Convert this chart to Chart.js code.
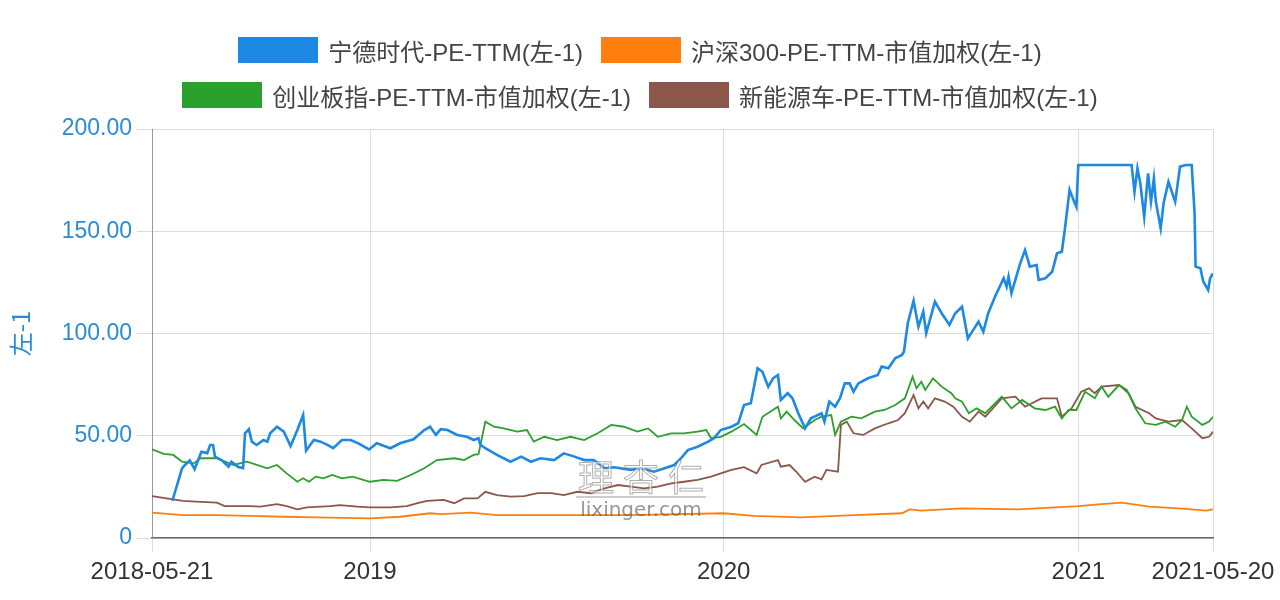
<!DOCTYPE html>
<html>
<head>
<meta charset="utf-8">
<script src="https://cdn.jsdelivr.net/npm/chart.js@4.4.1/dist/chart.umd.min.js"></script>
<style>
  html, body { margin: 0; padding: 0; background: #fff; }
  #wrap { position: relative; width: 1280px; height: 600px; }
  #chart { position: absolute; left: 0; top: 0; }
  .row { position: absolute; left: 0; width: 1280px; height: 26px; display: flex; justify-content: center; align-items: center;
         font-family: "Liberation Sans", "Noto Sans CJK SC", sans-serif; font-size: 24px; color: #444; }
  .item { display: flex; align-items: center; margin: 0 9px; white-space: nowrap; }
  .box { width: 80px; height: 26px; margin-right: 10px; }
</style>
</head>
<body>
<div id="wrap">
  <canvas id="chart" width="1280" height="600"></canvas>
  <div class="row" id="row1" style="top:37px"></div>
  <div class="row" id="row2" style="top:82px"></div>
</div>
<script>
// series names / colours
const seriesNames = ["宁德时代-PE-TTM(左-1)", "沪深300-PE-TTM-市值加权(左-1)", "创业板指-PE-TTM-市值加权(左-1)", "新能源车-PE-TTM-市值加权(左-1)"];
const seriesColors = ["#1e88e5", "#ff7f0e", "#2ca02c", "#8c564b"];

// x axis tick dates, y axis ticks
const xTickDates = ["2018-05-21", "2019-01-01", "2020-01-01", "2021-01-01", "2021-05-20"];
const yTicks = [0, 50, 100, 150, 200];

// 宁德时代
const catlDates = ["2018-06-11","2018-06-21","2018-06-24","2018-06-29","2018-07-04","2018-07-11","2018-07-17","2018-07-20","2018-07-23","2018-07-25",
  "2018-08-01","2018-08-08","2018-08-11","2018-08-18","2018-08-23","2018-08-25","2018-08-29","2018-09-01","2018-09-06","2018-09-13",
  "2018-09-17","2018-09-20","2018-09-27","2018-10-04","2018-10-11","2018-10-18","2018-10-24","2018-10-27","2018-11-04","2018-11-11",
  "2018-11-18","2018-11-24","2018-12-03","2018-12-12","2018-12-20","2018-12-31","2019-01-08","2019-01-22","2019-02-01","2019-02-15",
  "2019-02-26","2019-03-04","2019-03-10","2019-03-15","2019-03-22","2019-04-01","2019-04-11","2019-04-18","2019-04-23","2019-04-25",
  "2019-04-30","2019-05-12","2019-05-26","2019-06-06","2019-06-16","2019-06-26","2019-07-10","2019-07-20","2019-07-31","2019-08-10",
  "2019-08-20","2019-08-27","2019-08-31","2019-09-10","2019-09-27","2019-10-08","2019-10-21","2019-11-01","2019-11-11","2019-11-18",
  "2019-11-25","2019-12-05","2019-12-16","2019-12-22","2019-12-29","2020-01-09","2020-01-16","2020-01-22","2020-01-29","2020-02-05",
  "2020-02-10","2020-02-16","2020-02-21","2020-02-26","2020-02-29","2020-03-07","2020-03-12","2020-03-18","2020-03-25","2020-03-31",
  "2020-04-11","2020-04-14","2020-04-19","2020-04-25","2020-04-30","2020-05-05","2020-05-10","2020-05-14","2020-05-19","2020-05-29",
  "2020-06-08","2020-06-12","2020-06-19","2020-06-26","2020-07-03","2020-07-05","2020-07-09","2020-07-15","2020-07-20","2020-07-25",
  "2020-07-28","2020-08-06","2020-08-13","2020-08-21","2020-08-27","2020-09-03","2020-09-09","2020-09-20","2020-09-25","2020-09-30",
  "2020-10-07","2020-10-16","2020-10-19","2020-10-21","2020-10-24","2020-11-02","2020-11-07","2020-11-12","2020-11-19","2020-11-21",
  "2020-11-28","2020-12-05","2020-12-10","2020-12-15","2020-12-18","2020-12-23","2020-12-27","2020-12-30","2021-01-01","2021-02-25",
  "2021-02-28","2021-03-03","2021-03-06","2021-03-10","2021-03-14","2021-03-17","2021-03-20","2021-03-22","2021-03-27","2021-03-30",
  "2021-04-04","2021-04-11","2021-04-16","2021-04-22","2021-04-28","2021-05-01","2021-05-02","2021-05-07","2021-05-10","2021-05-15",
  "2021-05-17","2021-05-20"];
const catlPE = [18.2,34,35.7,38,33.7,42.2,41.5,45.5,45.5,39.8,
  38,34.9,37.3,34.7,34.2,51.2,53.2,47.1,45.5,47.9,
  47.1,51.2,54.4,52,45,52.8,60.1,42.7,47.9,47.1,
  45.5,43.9,47.9,47.9,46.3,43.3,46.3,43.9,46.3,48.3,
  52.8,54.4,50.4,53.2,52.8,50.4,49.5,47.9,48.8,45.5,
  43.9,40.6,37.3,39.8,37.3,39,38.1,41.4,39.8,38.1,
  38.1,35.7,34.1,34.6,33.3,34.1,32.4,34.1,35.7,39,
  43,44.6,47.1,48.8,52.8,54.4,56.1,65,65.9,83,
  81.3,74,78.1,79.7,67.5,70.8,68.3,61,53.6,58.5,
  61,56.9,66.7,64.2,68.3,75.6,75.6,71.5,75.6,78.1,
  79.7,83.8,83,87.9,89.5,91.1,105,116,103.3,110.7,
  100.1,115.6,109.9,104.2,109.9,113.1,97.6,105.8,100.9,109.9,
  118,127,122.9,127.8,119.7,134.3,140.8,132.7,133.5,126.2,
  127,130.2,139.2,140,150.6,170.2,165.3,162,182.4,182.4,
  169.3,180.8,173.4,157.1,178.3,164.5,175.9,164.5,151.4,163.7,
  174.2,164.5,181.6,182.4,182.4,158.8,132.7,131.9,125.3,121.3,
  127,129.4];

// 沪深300
const hs300Dates = ["2018-05-21","2018-06-22","2018-07-27","2018-08-30","2018-10-04","2018-11-07","2019-01-01","2019-02-01","2019-03-04","2019-03-15",
  "2019-04-15","2019-05-12","2019-07-20","2019-09-27","2020-01-01","2020-02-01","2020-03-21","2020-05-15","2020-07-03","2020-07-11",
  "2020-07-23","2020-09-03","2020-10-31","2021-01-01","2021-01-25","2021-02-15","2021-03-15","2021-04-15","2021-05-13","2021-05-20"];
const hs300PE = [12.4,11.2,11.2,10.8,10.4,10.1,9.6,10.4,12.1,11.7,
  12.4,11.2,11.2,11.2,12.1,10.8,10.1,11.2,12.1,14,
  13.4,14.5,14,15.6,16.6,17.3,15.3,14.5,13.4,14];

// 创业板指
const cybDates = ["2018-05-21","2018-06-02","2018-06-12","2018-06-21","2018-07-03","2018-07-10","2018-07-27","2018-08-13","2018-08-27","2018-09-17",
  "2018-09-27","2018-10-07","2018-10-18","2018-10-24","2018-10-30","2018-11-06","2018-11-14","2018-11-23","2018-12-03","2018-12-14",
  "2019-01-01","2019-01-15","2019-01-29","2019-02-12","2019-02-26","2019-03-11","2019-03-29","2019-04-08","2019-04-18","2019-04-23",
  "2019-04-30","2019-05-09","2019-05-19","2019-06-02","2019-06-12","2019-06-19","2019-06-30","2019-07-13","2019-07-27","2019-08-10",
  "2019-08-24","2019-09-07","2019-09-20","2019-10-04","2019-10-15","2019-10-25","2019-11-08","2019-11-21","2019-12-05","2019-12-14",
  "2019-12-19","2019-12-29","2020-01-09","2020-01-22","2020-02-04","2020-02-10","2020-02-26","2020-02-29","2020-03-06","2020-03-14",
  "2020-03-23","2020-04-04","2020-04-11","2020-04-21","2020-04-25","2020-05-01","2020-05-12","2020-05-22","2020-06-05","2020-06-15",
  "2020-06-26","2020-07-06","2020-07-14","2020-07-18","2020-07-23","2020-07-27","2020-08-04","2020-08-13","2020-08-23","2020-08-27",
  "2020-09-03","2020-09-10","2020-09-18","2020-09-27","2020-10-14","2020-10-24","2020-11-04","2020-11-17","2020-11-28","2020-12-08",
  "2020-12-15","2020-12-22","2020-12-30","2021-01-08","2021-01-18","2021-01-25","2021-02-01","2021-02-12","2021-02-20","2021-03-01",
  "2021-03-11","2021-03-22","2021-04-01","2021-04-11","2021-04-18","2021-04-23","2021-04-28","2021-05-09","2021-05-16","2021-05-20"];
const cybPE = [43.4,41.1,40.6,37.3,36.5,39,39,35.7,37.3,34.1,
  35.7,31.6,27.5,29.2,27.5,30,29.2,30.8,29.2,30,
  27.5,28.4,27.9,30.8,34.1,38.1,39,38.1,40.6,41,
  56.9,54.4,53.6,52,52.8,47.1,49.5,47.9,49.5,47.9,
  51.2,55.3,54.4,52,53.6,49.5,51.2,51.2,52,52.8,
  48.8,49.5,52,55.7,50.4,59.3,64.2,58.5,61.8,57.7,
  53.6,57.7,59.3,60.1,50.4,56.9,59.3,58.5,61.8,62.6,
  65,68.3,78.9,73.2,76.4,72.4,78.1,74,70.8,68.3,
  66.7,61,63.4,61,69.1,63.4,67.5,63.4,62.6,64.2,
  58.5,62.6,62.6,71.5,68.3,74,69.1,74.8,72.4,63.4,
  56.1,55.3,56.9,54.4,57.7,64.2,59.3,55.3,56.9,59.3];

// 新能源车
const nevDates = ["2018-05-21","2018-06-05","2018-06-22","2018-07-10","2018-07-27","2018-08-04","2018-08-30","2018-09-10","2018-09-27","2018-10-07",
  "2018-10-18","2018-10-28","2018-11-21","2018-12-01","2018-12-19","2019-01-01","2019-01-22","2019-02-08","2019-02-19","2019-03-01",
  "2019-03-18","2019-03-29","2019-04-08","2019-04-22","2019-04-30","2019-05-12","2019-05-26","2019-06-09","2019-06-23","2019-07-07",
  "2019-07-20","2019-08-03","2019-08-17","2019-08-31","2019-09-14","2019-09-27","2019-10-11","2019-10-25","2019-11-08","2019-11-21",
  "2019-12-05","2019-12-19","2019-12-29","2020-01-09","2020-01-22","2020-02-04","2020-02-09","2020-02-26","2020-02-29","2020-03-09",
  "2020-03-16","2020-03-25","2020-04-04","2020-04-11","2020-04-16","2020-04-28","2020-05-01","2020-05-07","2020-05-14","2020-05-24",
  "2020-06-05","2020-06-19","2020-06-29","2020-07-06","2020-07-15","2020-07-20","2020-07-25","2020-07-30","2020-08-06","2020-08-16",
  "2020-08-25","2020-09-03","2020-09-11","2020-09-20","2020-09-27","2020-10-14","2020-10-28","2020-11-07","2020-11-24","2020-12-10",
  "2020-12-15","2020-12-25","2021-01-04","2021-01-12","2021-01-18","2021-01-25","2021-02-12","2021-02-22","2021-03-01","2021-03-15",
  "2021-03-22","2021-04-04","2021-04-18","2021-04-28","2021-05-09","2021-05-16","2021-05-20"];
const nevPE = [20.5,19.4,18.2,17.7,17.3,15.6,15.6,15.3,16.6,15.6,
  14,15,15.6,16.1,15.3,15,15,15.6,17,18.2,
  18.6,17,19.4,19.4,22.6,21,20.2,20.5,21.9,21.9,
  21,22.6,21.9,24.3,25.9,25.1,24.3,25.1,26.7,27.5,
  28.4,30,31.6,33.3,34.6,31.6,35.7,38.1,34.9,35.7,
  32.4,27.5,30,28.7,33.3,32.4,55.3,56.9,51.2,50.4,
  53.6,56.1,57.7,61,69.9,63.4,66.7,63.4,68.3,66.7,
  64.2,59.3,56.9,61.8,59.3,68.3,69.1,64.2,68.3,68.3,
  59.3,63.4,71.5,73.2,70.8,74,74.8,70.8,64.2,61,
  58.5,56.9,57.7,53.6,48.8,49.5,52];

const allDates = [catlDates, hs300Dates, cybDates, nevDates];
const allValues = [catlPE, hs300PE, cybPE, nevPE];
const lineWidths = [2.6, 1.8, 1.8, 1.8];

// html legend
seriesNames.forEach((name, i) => {
  const row = document.getElementById(i < 2 ? "row1" : "row2");
  const item = document.createElement("div");
  item.className = "item";
  item.innerHTML = '<span class="box" style="background:' + seriesColors[i] + '"></span><span>' + name + '</span>';
  row.appendChild(item);
});

const datasets = seriesNames.map((name, i) => ({
  label: name,
  data: allDates[i].map((d, j) => ({ x: Date.parse(d), y: allValues[i][j] })),
  borderColor: seriesColors[i],
  backgroundColor: seriesColors[i],
  borderWidth: lineWidths[i],
  pointRadius: 0,
  tension: 0,
  fill: false
}));

// lixinger watermark
const watermark = {
  id: "watermark",
  afterDatasetsDraw(chart) {
    const ctx = chart.ctx;
    ctx.save();
    ctx.font = "36px 'Noto Sans CJK SC'";
    ctx.textAlign = "center";
    ctx.textBaseline = "middle";
    ctx.fillStyle = "rgba(255,255,255,0.55)";
    ctx.strokeStyle = "rgba(110,110,110,0.55)";
    ctx.lineWidth = 1;
    const chars = ["理", "杏", "仁"];
    chars.forEach((c, i) => {
      ctx.fillText(c, 596 + i * 45, 477);
      ctx.strokeText(c, 596 + i * 45, 477);
    });
    ctx.beginPath();
    ctx.moveTo(576, 497);
    ctx.lineTo(706, 497);
    ctx.strokeStyle = "rgba(90,90,90,0.6)";
    ctx.stroke();
    ctx.font = "20px 'DejaVu Sans'";
    ctx.fillStyle = "rgba(80,80,80,0.6)";
    ctx.fillText("lixinger.com", 641, 511);
    ctx.restore();
  }
};

const ctx = document.getElementById("chart").getContext("2d");
new Chart(ctx, {
  type: "line",
  data: { datasets },
  plugins: [watermark],
  options: {
    responsive: false,
    animation: false,
    layout: { padding: { top: 129, right: 67, bottom: 0, left: 0 } },
    plugins: {
      legend: { display: false },
      tooltip: { enabled: false }
    },
    scales: {
      x: {
        type: "linear",
        min: Date.parse(xTickDates[0]),
        max: Date.parse(xTickDates[xTickDates.length - 1]),
        afterBuildTicks: scale => { scale.ticks = xTickDates.map(d => ({ value: Date.parse(d) })); },
        afterFit: scale => { scale.height = 62; scale.paddingLeft = 0; scale.paddingRight = 0; },
        ticks: {
          autoSkip: false,
          maxRotation: 0,
          padding: 6,
          color: "#333",
          font: { family: "'Liberation Sans', sans-serif", size: 24 },
          callback: v => {
            const s = new Date(v).toISOString().slice(0, 10);
            return s.endsWith("-01-01") ? s.slice(0, 4) : s;
          }
        },
        grid: { color: "#dcdcdc", tickColor: "#dcdcdc", tickLength: 14, lineWidth: 1 },
        border: { color: "#666", width: 1.5 }
      },
      y: {
        min: 0,
        max: 200,
        afterBuildTicks: scale => { scale.ticks = yTicks.map(v => ({ value: v })); },
        afterFit: scale => { scale.width = 152; scale.paddingTop = 0; scale.paddingBottom = 0; },
        ticks: {
          padding: 5,
          color: "#2a8bd6",
          font: { family: "'Liberation Sans', sans-serif", size: 23 },
          callback: v => v === 0 ? "0" : v.toFixed(2)
        },
        grid: { color: "#dcdcdc", tickColor: "#dcdcdc", tickLength: 15, lineWidth: 1 },
        border: { color: "#999", width: 1 },
        title: {
          display: true,
          text: "左-1",
          color: "#2a8bd6",
          padding: { top: 6 },
          font: { family: "'Noto Sans CJK SC', sans-serif", size: 24 }
        }
      }
    }
  }
});
</script>
</body>
</html>
